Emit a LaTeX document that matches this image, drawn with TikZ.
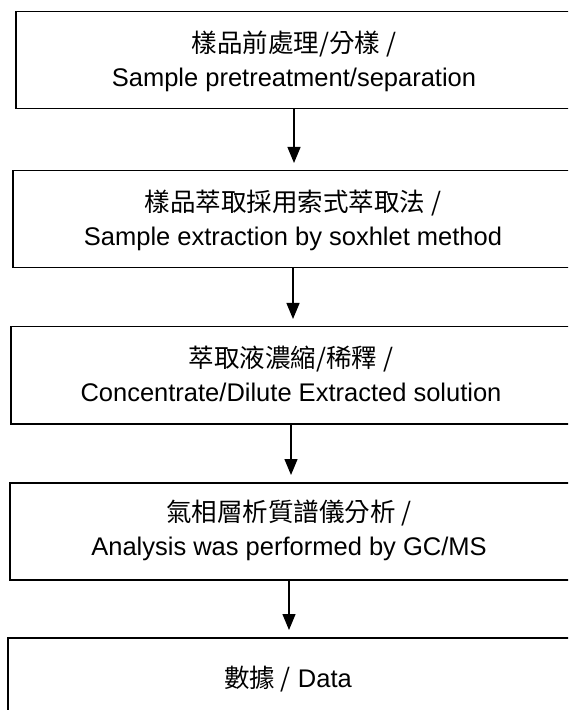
\documentclass[tikz,border=0pt]{standalone}
\usepackage{fontspec}
\setmainfont{Liberation Sans}
\newfontfamily\cjk{Noto Sans CJK TC}
\usepackage{tikz}
\usetikzlibrary{arrows.meta}

\begin{document}
\begin{tikzpicture}[x=0.5pt,y=-0.5pt]
		\clip (0,0) rectangle (568,710);
		\begin{scope}[every node/.style={rectangle,draw=black,line width=0.75pt,anchor=north west,
		              minimum width=300pt,minimum height=48.5pt,inner sep=0pt}]
			\node (b1) at (15,11) {};
			\node (b2) at (12,170) {};
			\node (b3) at (10,326) {};
			\node (b4) at (9,482) {};
			\node (b5) at (7,637) {};
		\end{scope}

		\begin{scope}[every node/.style={align=center,font=\fontsize{12.75}{17}\selectfont}]
			\node (t1) at (294,61) {{\cjk 樣品前處理/分樣 /}\\Sample pretreatment/separation};
			\node (t2) at (293,220) {{\cjk 樣品萃取採用索式萃取法 /}\\Sample extraction by soxhlet method};
			\node (t3) at (291,374) {{\cjk 萃取液濃縮/稀釋 /}\\Concentrate/Dilute Extracted solution};
			\node (t4) at (289,530) {{\cjk 氣相層析質譜儀分析 /}\\Analysis was performed by GC/MS};
			\node (t5) at (288,679) {{\cjk 數據 /} Data};
		\end{scope}

		\begin{scope}[>={Triangle[length=8pt,width=6.5pt]},
		              every edge/.style={draw=black,line width=0.65pt,shorten >=3.5pt}]
			\path (b1.south -| t1) edge[->] (b2.north -| t1);
			\path (b2.south -| t2) edge[->] (b3.north -| t2);
			\path (b3.south -| t3) edge[->] (b4.north -| t3);
			\path (b4.south -| t4) edge[->] (b5.north -| t4);
		\end{scope}
\end{tikzpicture}
\end{document}
